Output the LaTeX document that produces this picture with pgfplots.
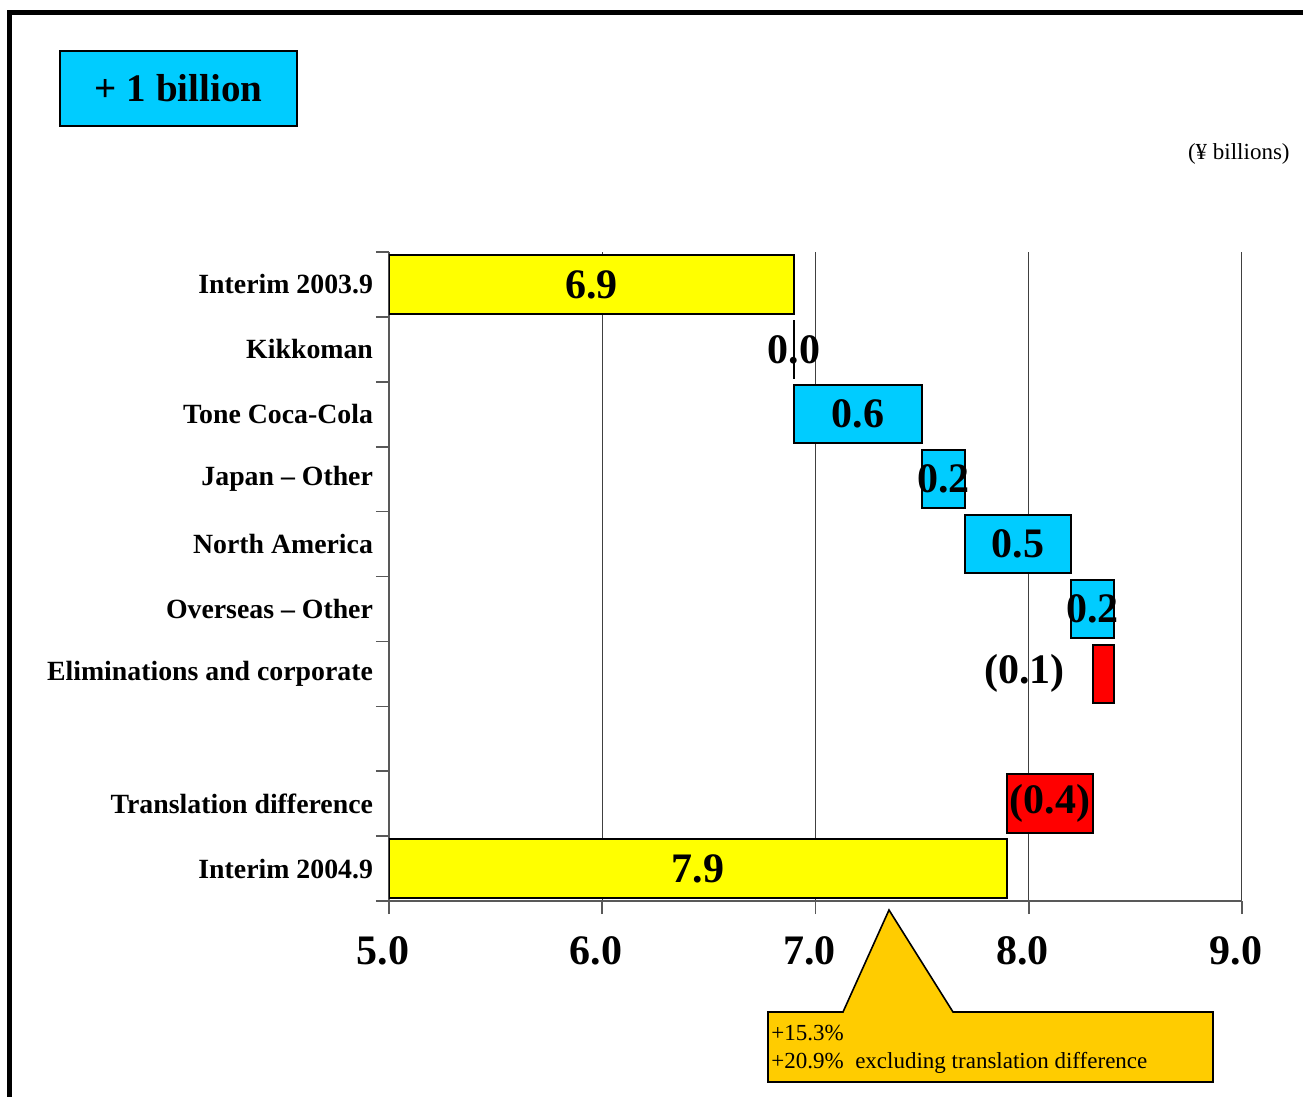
\documentclass[border=0pt]{standalone}
\usepackage{pgfplots}
\pgfplotsset{compat=1.18}
\usepackage{fontspec}
\setmainfont{Liberation Serif}

\definecolor{wfyellow}{HTML}{FFFF00}
\definecolor{wfcyan}{HTML}{00CCFF}
\definecolor{wfred}{HTML}{FF0000}
\definecolor{callout}{HTML}{FFCC00}

\newcommand{\catfont}{\bfseries\fontsize{13.9}{16}\selectfont}
\newcommand{\valfont}{\bfseries\fontsize{21}{24}\selectfont}

\begin{document}
\begin{tikzpicture}
\useasboundingbox (0,0) rectangle (651.5pt,-548.5pt);

% frame and headers (coordinates in pixels of the reference)
\begin{scope}[x=0.5pt,y=-0.5pt]
  \draw[line width=2.5pt] (9,1097) -- (9,13) -- (1303,13);
  \node[draw=black, line width=0.8pt, fill=wfcyan, minimum width=118.5pt,
        minimum height=37.5pt, inner sep=0pt]
        at (178.5,88.5) {\bfseries\fontsize{19.5}{22}\selectfont + 1 billion};
  \node[anchor=base east, inner sep=0pt, font=\fontsize{11.5}{13}\selectfont]
        at (1290,160) {(¥ billions)};
\end{scope}

\begin{axis}[
    at={(194.5pt,-450.5pt)}, anchor=south west,
    scale only axis, width=426.5pt, height=324.5pt,
    xmin=5, xmax=9, ymin=0.5, ymax=10.5,
    axis x line=bottom, axis y line=left,
    axis line style={-, line width=0.8pt, black!65},
    xtick={5,6,7,8,9},
    xticklabels={5.0,6.0,7.0,8.0,9.0},
    xticklabel style={font=\valfont, yshift=-7.5pt, xshift=-3pt},
    xmajorgrids,
    grid style={black!75, line width=0.5pt},
    ytick={1,...,10},
    yticklabels={Interim 2004.9, Translation difference, {}, Eliminations and corporate,
                 Overseas – Other, North America, Japan – Other, Tone Coca-Cola,
                 Kikkoman, Interim 2003.9},
    yticklabel style={font=\catfont, xshift=2pt},
    minor ytick={0.5,1.5,...,10.5},
    tick align=outside,
    major tick length=6.5pt, minor tick length=6.5pt,
    tick style={black!65, line width=0.8pt},
    major y tick style={draw=none},
  ]
  % waterfall bars: (start,row-0.45) .. (end,row+0.45)
  \addplot[fill=wfyellow, draw=black, line width=1pt] coordinates
    {(5.0,9.55) (6.9,9.55) (6.9,10.45) (5.0,10.45)} -- cycle;
  \addplot[draw=black, line width=1pt] coordinates
    {(6.9,8.55) (6.9,9.45)};
  \addplot[fill=wfcyan, draw=black, line width=1pt] coordinates
    {(6.9,7.55) (7.5,7.55) (7.5,8.45) (6.9,8.45)} -- cycle;
  \addplot[fill=wfcyan, draw=black, line width=1pt] coordinates
    {(7.5,6.55) (7.7,6.55) (7.7,7.45) (7.5,7.45)} -- cycle;
  \addplot[fill=wfcyan, draw=black, line width=1pt] coordinates
    {(7.7,5.55) (8.2,5.55) (8.2,6.45) (7.7,6.45)} -- cycle;
  \addplot[fill=wfcyan, draw=black, line width=1pt] coordinates
    {(8.2,4.55) (8.4,4.55) (8.4,5.45) (8.2,5.45)} -- cycle;
  \addplot[fill=wfred, draw=black, line width=1pt] coordinates
    {(8.3,3.55) (8.4,3.55) (8.4,4.45) (8.3,4.45)} -- cycle;
  \addplot[fill=wfred, draw=black, line width=1pt] coordinates
    {(7.9,1.55) (8.3,1.55) (8.3,2.45) (7.9,2.45)} -- cycle;
  \addplot[fill=wfyellow, draw=black, line width=1pt] coordinates
    {(5.0,0.55) (7.9,0.55) (7.9,1.45) (5.0,1.45)} -- cycle;

  % value labels
  \node[font=\valfont] at (5.95,10) {6.9};
  \node[font=\valfont] at (6.9,9) {0.0};
  \node[font=\valfont] at (7.2,8) {0.6};
  \node[font=\valfont] at (7.6,7) {0.2};
  \node[font=\valfont] at (7.95,6) {0.5};
  \node[font=\valfont] at (8.3,5) {0.2};
  \node[font=\valfont] at (7.98,4) {(0.1)};
  \node[font=\valfont] at (8.1,2) {(0.4)};
  \node[font=\valfont] at (6.45,1) {7.9};
\end{axis}

% callout
\begin{scope}[x=0.5pt,y=-0.5pt]
  \draw[fill=callout, line width=0.8pt]
    (768,1012) -- (843,1012) -- (889,910) -- (953,1012) -- (1213,1012)
    -- (1213,1082) -- (768,1082) -- cycle;
  \node[anchor=base west, inner sep=0pt, font=\fontsize{11.5}{13}\selectfont]
    at (771,1040) {+15.3\%};
  \node[anchor=base west, inner sep=0pt, font=\fontsize{11.5}{13}\selectfont]
    at (771,1068) {+20.9\%\ \ excluding translation difference};
\end{scope}
\end{tikzpicture}
\end{document}
